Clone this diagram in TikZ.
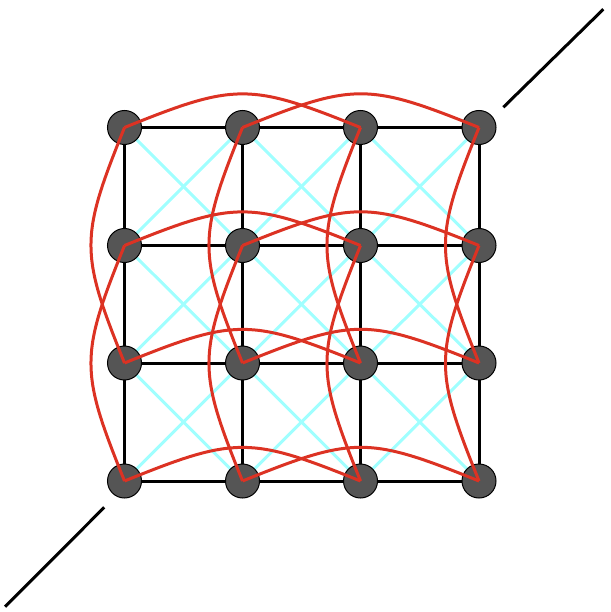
\documentclass[tikz,border=0pt]{standalone}
\usetikzlibrary{backgrounds}
\definecolor{redl}{RGB}{220,50,35}
\definecolor{cyanl}{RGB}{160,255,255}
\definecolor{gray5}{RGB}{85,85,85}
\begin{document}
\begin{tikzpicture}[x=1pt,y=-1pt,
  gridline/.style={line width=3pt, black},
  diagline/.style={line width=3pt, cyanl},
  skipline/.style={line width=3pt, redl},
  vtx/.style={circle, fill=gray5, draw=black, line width=1pt, minimum size=34pt, inner sep=0pt}]
\useasboundingbox (0,0) rectangle (610,612);
\foreach \i/\x in {0/124.5,1/242.5,2/360.5,3/479}
  \foreach \j/\y in {0/127.5,1/245.5,2/363,3/481}
    \node[vtx] (n\i\j) at (\x,\y) {};
\begin{scope}[on background layer]
  % cyan diagonals
  \foreach \i/\ii in {0/1,1/2,2/3}
    \foreach \j/\jj in {0/1,1/2,2/3} {
      \draw[diagline] (n\i\j.center) -- (n\ii\jj.center);
      \draw[diagline] (n\ii\j.center) -- (n\i\jj.center);
    }
  % black grid
  \foreach \i in {0,1,2,3} {
    \draw[gridline] (n\i0.center) -- (n\i3.center);
    \draw[gridline] (n0\i.center) -- (n3\i.center);
  }
\end{scope}
% red skip connections
\foreach \j in {0,1,2,3} {
  \draw[skipline] (n0\j.center) to[bend left=22, looseness=1.3] (n2\j.center);
  \draw[skipline] (n1\j.center) to[bend left=22, looseness=1.3] (n3\j.center);
}
\foreach \i in {0,1,2,3} {
  \draw[skipline] (n\i0.center) to[bend right=22, looseness=1.3] (n\i2.center);
  \draw[skipline] (n\i1.center) to[bend right=22, looseness=1.3] (n\i3.center);
}
% outer diagonal strokes
\coordinate (bl1) at (5,606.7);
\coordinate (bl2) at (104.3,507.3);
\coordinate (tr1) at (503.3,107.3);
\coordinate (tr2) at (603.3,9.3);
\draw[gridline] (bl1) -- (bl2);
\draw[gridline] (tr1) -- (tr2);
\end{tikzpicture}
\end{document}
